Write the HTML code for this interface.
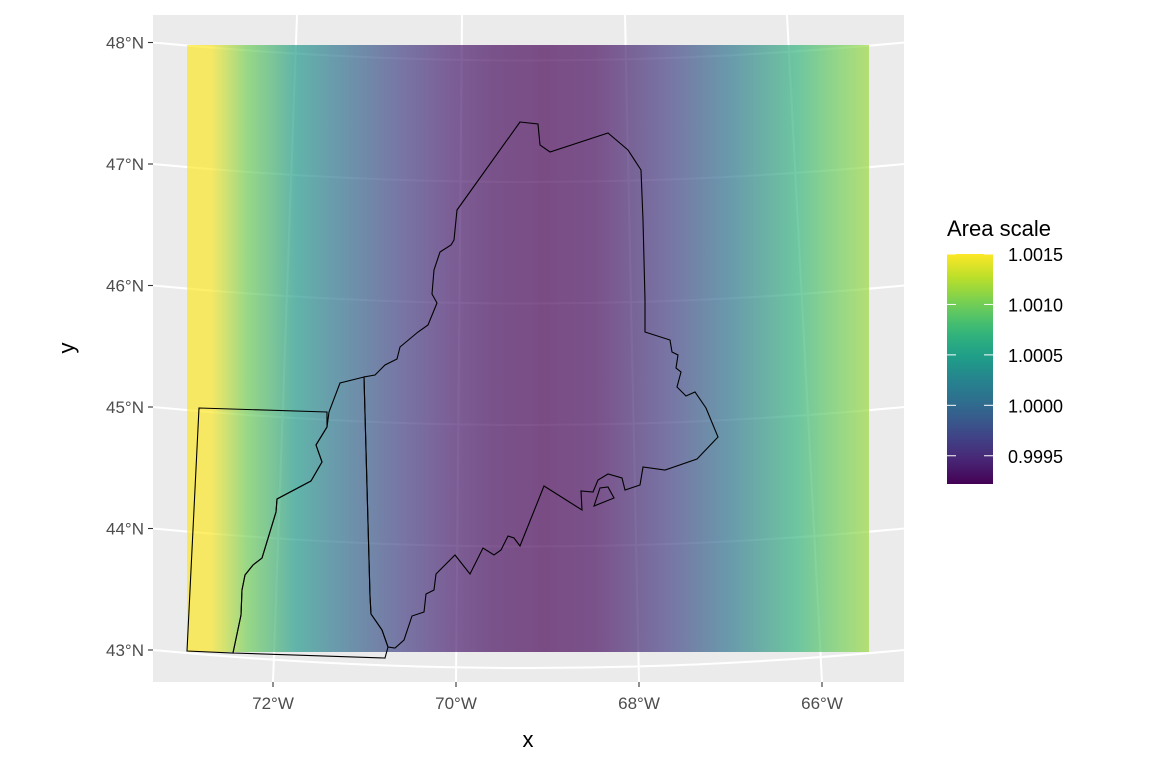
<!DOCTYPE html>
<html><head><meta charset="utf-8"><style>
body{margin:0;background:#fff;}
svg{display:block;font-family:"Liberation Sans",Arial,sans-serif;}
</style></head><body>
<svg id="chart" width="1152" height="768" viewBox="0 0 1152 768">
<defs>
<linearGradient id="rasterGrad" x1="187" x2="869" y1="0" y2="0" gradientUnits="userSpaceOnUse"></linearGradient>
<linearGradient id="legendGrad" x1="0" x2="0" y1="1" y2="0"></linearGradient>
</defs>
<rect x="153" y="15" width="751" height="667" fill="#ebebeb"/>
<g id="grid"></g>
<rect id="raster" x="187" y="45" width="682" height="607" fill="url(#rasterGrad)" opacity="0.68"/>
<g fill="none" stroke="#000" stroke-width="1.1">
<path d="M520,122 L538,124 L540,145 L550,152 L608,133 L628,150 L641,170 L643,220 L645,300 L645,332 L670,340 L672,352 L678,355 L676,368 L681,372 L677,387 L686,396 L695,392 L706,408 L718,437 L697,459 L665,470 L643,467 L640,485 L625,490 L622,478 L608,474 L598,480 L593,492 L581,491 L582,510 L544,486 L520,546 L514,538 L508,536 L501,550 L494,555 L483,548 L470,574 L455,555 L436,574 L434,590 L426,594 L424,612 L412,616 L404,640 L395,648 L388,647 L382,630 L371,614 L370,596 L364,377 L375,375 L385,365 L397,359 L400,347 L418,332 L428,325 L437,303 L432,294 L434,270 L440,252 L451,245 L454,240 L457,210 Z"/>
<path d="M594,506 L600,488 L608,487 L614,498 Z"/>
<path d="M364,377 L340,383 L329,412 L327,427 L316,445 L322,462 L311,481 L277,499 L276,512 L262,558 L253,565 L245,575 L242,590 L241,615 L233,653 L385,658 L388,647 L382,630 L371,614 L370,596 Z"/>
<path d="M199,408 L327,412 L327,427 L316,445 L322,462 L311,481 L277,499 L276,512 L262,558 L253,565 L245,575 L242,590 L241,615 L233,653 L187,651 Z"/>
</g>
<g id="axes" fill="#4d4d4d" font-size="17"></g>
<text x="528" y="747" font-size="22" text-anchor="middle">x</text>
<text transform="translate(74,348) rotate(-90)" font-size="22" text-anchor="middle">y</text>
<text x="947" y="236" font-size="22">Area scale</text>
<rect x="947" y="254" width="46" height="230" fill="url(#legendGrad)"/>
<g id="legend" font-size="18"></g>
</svg>
<script>
const rasterLons=[-72.94,-72.68,-72.28,-71.75,-71.31,-70.61,-70.07,-69.6,-69.03,-68.48,-67.65,-67.0,-66.28,-65.79,-65.49];
const rasterValues=[1.0015,1.0015,1.0010,1.00045,1.0001,0.99965,0.9994,0.99928,0.99922,0.99928,0.99965,1.0001,1.0007,1.0010,1.00115];
const legendTicks=[0.9995,1.0000,1.0005,1.0010,1.0015];
const legendLabels=["0.9995","1.0000","1.0005","1.0010","1.0015"];
const latTicks=[43,44,45,46,47,48];
const latLabels=["43°N","44°N","45°N","46°N","47°N","48°N"];
const lonTicks=[-72,-70,-68,-66];
const lonLabels=["72°W","70°W","68°W","66°W"];
const NS="http://www.w3.org/2000/svg";
const xS=lon=>273+(lon+72)*91.5;
const yS=lat=>650-(lat-43)*121.5;
const vMin=0.99922,vMax=1.0015;
const legY=v=>484-(v-vMin)/(vMax-vMin)*230;
const vir=["#440154","#482878","#3e4989","#31688e","#26828e","#1f9e89","#35b779","#6ece58","#b5de2b","#fde725"];
function col(v){let t=Math.max(0,Math.min(1,(v-vMin)/(vMax-vMin)))*(vir.length-1);let i=Math.min(vir.length-2,Math.floor(t)),f=t-i;
const a=vir[i],b=vir[i+1];const h=(s,k)=>parseInt(s.substr(1+2*k,2),16);
return "rgb("+[0,1,2].map(k=>Math.round(h(a,k)*(1-f)+h(b,k)*f)).join(",")+")";}
const rg=document.getElementById('rasterGrad');
rasterLons.forEach((lon,i)=>{const s=document.createElementNS(NS,'stop');s.setAttribute('offset',((xS(lon)-187)/682));s.setAttribute('stop-color',col(rasterValues[i]));rg.appendChild(s);});
const lg=document.getElementById('legendGrad');
for(let i=0;i<=20;i++){const s=document.createElementNS(NS,'stop');s.setAttribute('offset',i/20);s.setAttribute('stop-color',col(vMin+(vMax-vMin)*i/20));lg.appendChild(s);}
const grid=document.getElementById('grid'),axes=document.getElementById('axes'),leg=document.getElementById('legend');
const topX={"-72":297,"-70":462,"-68":625,"-66":787};
latTicks.forEach((lat,i)=>{const y=yS(lat);
const p=document.createElementNS(NS,'path');p.setAttribute('d',`M153,${y} Q528,${y+36} 904,${y}`);p.setAttribute('stroke','#fff');p.setAttribute('stroke-width','2');p.setAttribute('fill','none');


grid.appendChild(p);
const t=document.createElementNS(NS,'line');t.setAttribute('x1',148);t.setAttribute('x2',153);t.setAttribute('y1',y);t.setAttribute('y2',y);t.setAttribute('stroke','#333');t.setAttribute('stroke-width','1.1');


axes.appendChild(t);
const l=document.createElementNS(NS,'text');l.setAttribute('x',144);l.setAttribute('y',y+6);l.setAttribute('text-anchor','end');l.textContent=latLabels[i];


axes.appendChild(l);});
lonTicks.forEach((lon,i)=>{const x=xS(lon);
const p=document.createElementNS(NS,'line');p.setAttribute('x1',x);p.setAttribute('y1',682);p.setAttribute('x2',topX[lon]);p.setAttribute('y2',15);p.setAttribute('stroke','#fff');p.setAttribute('stroke-width','2');


grid.appendChild(p);
const t=document.createElementNS(NS,'line');t.setAttribute('x1',x);t.setAttribute('x2',x);t.setAttribute('y1',682);t.setAttribute('y2',687);t.setAttribute('stroke','#333');t.setAttribute('stroke-width','1.1');


axes.appendChild(t);
const l=document.createElementNS(NS,'text');l.setAttribute('x',x);l.setAttribute('y',709);l.setAttribute('text-anchor','middle');l.textContent=lonLabels[i];


axes.appendChild(l);});
legendTicks.forEach((v,i)=>{const y=legY(v);
[[947,956],[984,993]].forEach(([a,b])=>{const t=document.createElementNS(NS,'line');t.setAttribute('x1',a);t.setAttribute('x2',b);t.setAttribute('y1',y);t.setAttribute('y2',y);t.setAttribute('stroke','#fff');t.setAttribute('stroke-width','1');


leg.appendChild(t);});
const l=document.createElementNS(NS,'text');l.setAttribute('x',1008);l.setAttribute('y',y+7);l.textContent=legendLabels[i];


leg.appendChild(l);});
</script>
</body></html>
